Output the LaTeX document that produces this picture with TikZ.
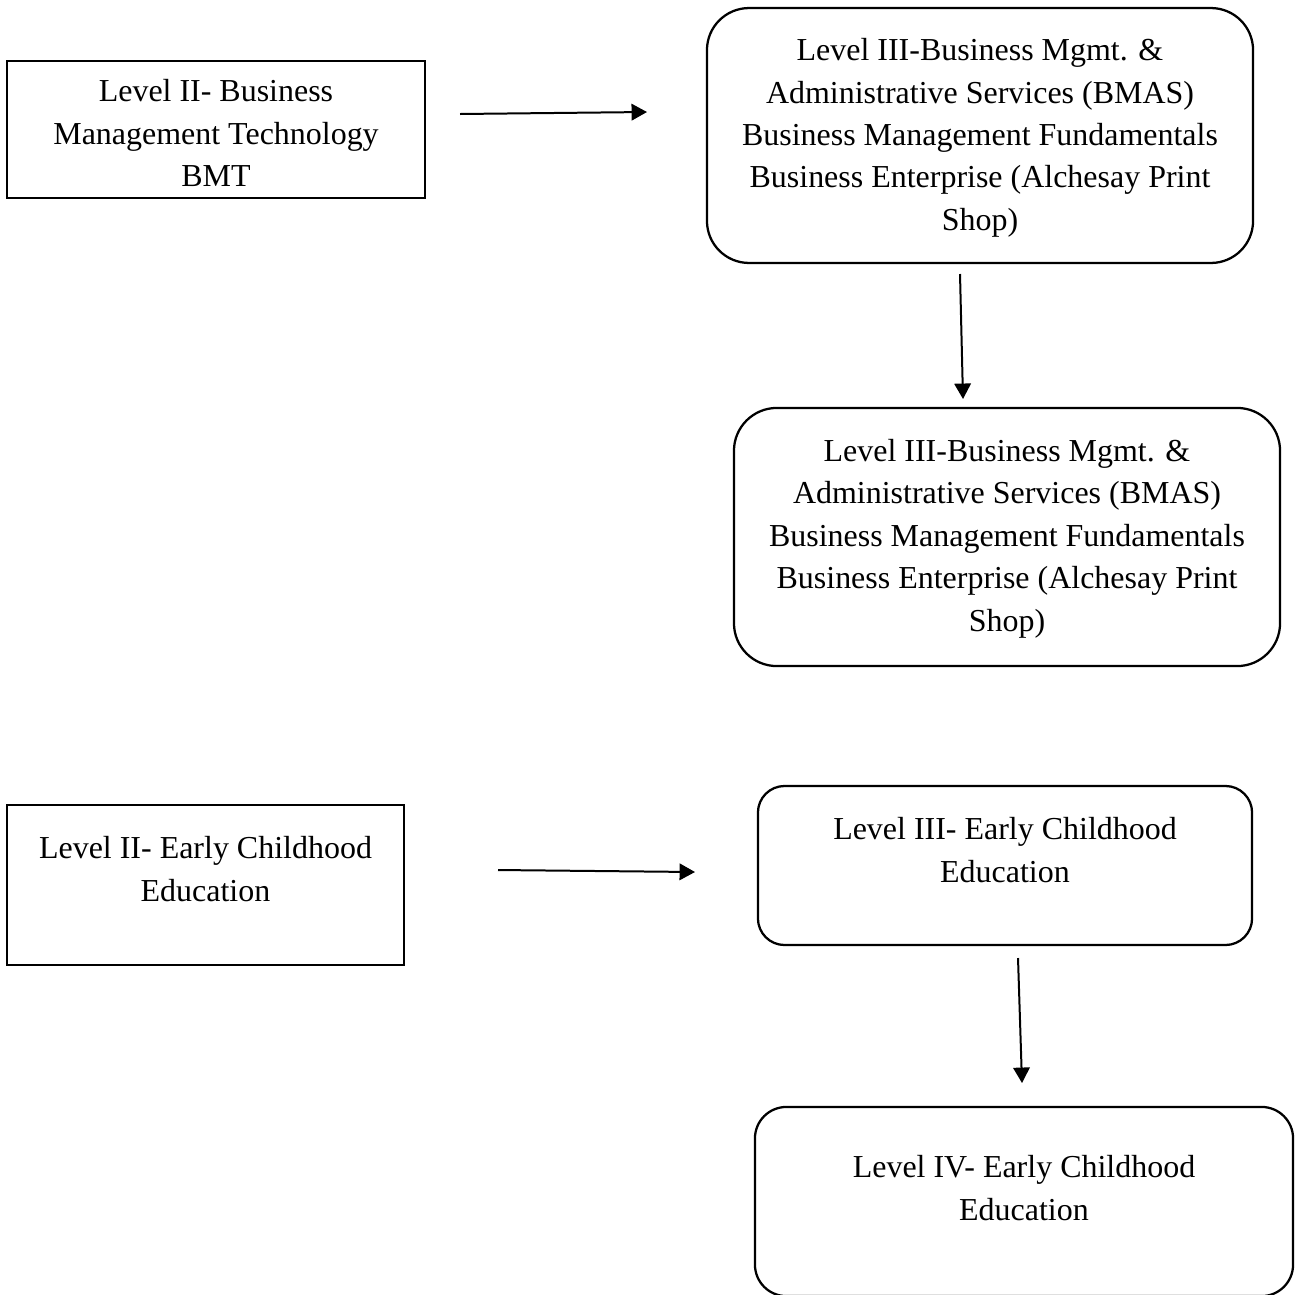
\documentclass[tikz,border=0pt]{standalone}
\usepackage{fontspec}
\setmainfont{Liberation Serif}
\usetikzlibrary{positioning,arrows.meta}
\def\PxUnit{0.3754pt}

\begin{document}
\begin{tikzpicture}[x=\PxUnit,y=-\PxUnit,
	lvl/.style={draw,line width=0.65pt,inner sep=0pt},
	lvlr/.style={lvl,line width=0.85pt,rounded corners=#1},
	txt/.style={anchor=north,align=center,inner sep=0pt,font=\fontsize{12pt}{15.95pt}\selectfont},
	arr/.style={line width=0.75pt,-{Triangle[length=5.8pt,width=6.2pt]}}]
	\useasboundingbox (0,0) rectangle (1295,1294);
	% business track
	\node[lvl,minimum width=156.9pt,minimum height=51.4pt] (bmt) at (216,129.5) {};
	\node[txt,below=7.1pt of bmt.north] (bmt-t) {Level II- Business\\Management Technology\\BMT};
	\node[lvlr=15.8pt,minimum width=205pt,minimum height=95.7pt] (bmas) at (980,135.5) {};
	\node[txt,below=11.6pt of bmas.north] (bmas-t) {Level III-Business Mgmt. \&\\Administrative Services (BMAS)\\Business Management Fundamentals\\Business Enterprise (Alchesay Print\\Shop)};
	\node[lvlr=16.1pt,minimum width=205pt,minimum height=96.9pt] (bmas2) at (1007,537) {};
	\node[txt,below=12pt of bmas2.north] (bmas2-t) {Level III-Business Mgmt. \&\\Administrative Services (BMAS)\\Business Management Fundamentals\\Business Enterprise (Alchesay Print\\Shop)};
	% early childhood track
	\node[lvl,minimum width=149pt,minimum height=60.1pt] (ece2) at (205.5,885) {};
	\node[txt,below=12pt of ece2.north] (ece2-t) {Level II- Early Childhood\\Education};
	\node[lvlr=10pt,minimum width=185.5pt,minimum height=59.7pt] (ece3) at (1005,865.5) {};
	\node[txt,below=12pt of ece3.north] (ece3-t) {Level III- Early Childhood\\Education};
	\node[lvlr=11.8pt,minimum width=202pt,minimum height=71pt] (ece4) at (1024,1201.5) {};
	\node[txt,below=18.4pt of ece4.north] (ece4-t) {Level IV- Early Childhood\\Education};
	% arrow ends
	\coordinate (a1s) at (460,114);
	\coordinate (a1e) at (647,112);
	\coordinate (a2s) at (960,274);
	\coordinate (a2e) at (963,399);
	\coordinate (a3s) at (498,870);
	\coordinate (a3e) at (695,872);
	\coordinate (a4s) at (1018,958);
	\coordinate (a4e) at (1022,1083);
	\draw[arr] (a1s) -- (a1e);
	\draw[arr] (a2s) -- (a2e);
	\draw[arr] (a3s) -- (a3e);
	\draw[arr] (a4s) -- (a4e);
\end{tikzpicture}
\end{document}
